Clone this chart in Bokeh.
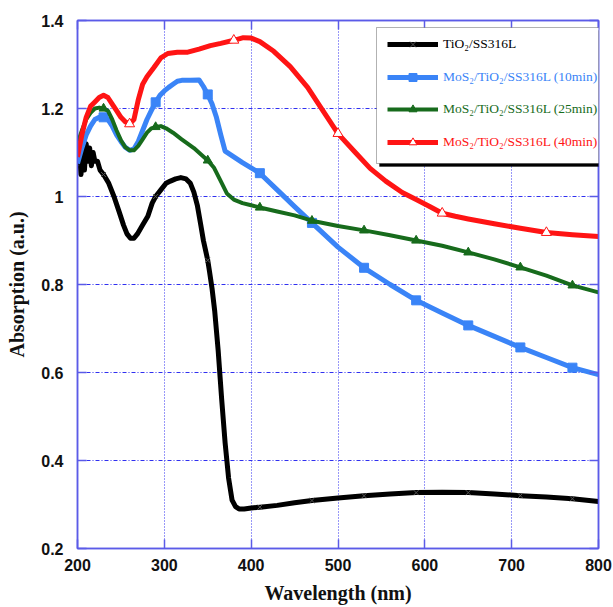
from bokeh.plotting import figure
from bokeh.models import Range1d, LinearAxis, Legend, LegendItem, BoxAnnotation, FixedTicker
from bokeh.embed import file_html
from bokeh.resources import INLINE

# ---------------- data ----------------
x_ticks = [200, 300, 400, 500, 600, 700, 800]
y_ticks = [0.2, 0.4, 0.6, 0.8, 1.0, 1.2, 1.4]
y_tick_labels = ["0.2", "0.4", "0.6", "0.8", "1", "1.2", "1.4"]
x_title = "Wavelength (nm)"
y_title = "Absorption (a.u.)"

labels = ["TiO\u2082/SS316L",
          "MoS\u2082/TiO\u2082/SS316L (10min)",
          "MoS\u2082/TiO\u2082/SS316L (25min)",
          "MoS\u2082/TiO\u2082/SS316L (40min)"]

wl_tio2 = [200, 202, 204, 206, 208, 210, 212, 214, 216, 218, 220, 223, 226, 230, 236, 242, 248,
           253, 257, 261, 265, 269, 275, 281, 286, 290, 296, 302, 307, 313, 319, 325, 330, 334,
           338, 342, 345, 350, 352, 355, 358, 362, 366, 370, 374, 378, 382, 386, 392, 400, 410,
           430, 450, 470, 500, 530, 560, 590, 620, 650, 680, 710, 740, 770, 800]
abs_tio2 = [1.07, 1.11, 1.05, 1.10, 1.06, 1.12, 1.08, 1.11, 1.07, 1.10, 1.08, 1.08, 1.06, 1.05,
            1.03, 1.00, 0.965, 0.935, 0.915, 0.905, 0.905, 0.915, 0.935, 0.955, 0.985, 1.0,
            1.015, 1.03, 1.035, 1.04, 1.043, 1.04, 1.03, 1.01, 0.98, 0.935, 0.9, 0.855, 0.83,
            0.79, 0.74, 0.65, 0.54, 0.44, 0.36, 0.31, 0.295, 0.29, 0.29, 0.292, 0.294, 0.298,
            0.304, 0.309, 0.315, 0.32, 0.324, 0.327, 0.328, 0.327, 0.324, 0.32, 0.317, 0.313,
            0.307]
mk_tio2 = [230, 290, 350, 410, 470, 530, 590, 650, 710, 770]

wl_10 = [200, 205, 210, 215, 220, 225, 230, 235, 240, 245, 250, 255, 260, 265, 270, 275, 280,
         285, 290, 295, 300, 305, 310, 315, 320, 330, 340, 345, 350, 355, 360, 365, 370, 380,
         390, 400, 410, 430, 450, 470, 500, 530, 560, 590, 620, 650, 680, 710, 740, 770, 800]
abs_10 = [1.075, 1.11, 1.14, 1.16, 1.175, 1.18, 1.18, 1.175, 1.16, 1.14, 1.125, 1.112, 1.105,
          1.108, 1.125, 1.15, 1.175, 1.195, 1.214, 1.23, 1.24, 1.248, 1.255, 1.262, 1.264,
          1.264, 1.265, 1.25, 1.232, 1.21, 1.18, 1.14, 1.103, 1.09, 1.077, 1.065, 1.053, 1.015,
          0.977, 0.94, 0.885, 0.838, 0.8, 0.764, 0.735, 0.707, 0.682, 0.657, 0.634, 0.611,
          0.595]
mk_10 = [230, 290, 350, 410, 470, 530, 590, 650, 710, 770]

wl_25 = [200, 205, 210, 215, 220, 225, 230, 235, 240, 245, 250, 255, 260, 265, 270, 275, 280,
         285, 290, 296, 302, 310, 320, 334, 350, 357, 365, 372, 380, 390, 400, 410, 430, 450,
         470, 500, 530, 560, 590, 620, 650, 680, 710, 740, 770, 800]
abs_25 = [1.12, 1.15, 1.175, 1.19, 1.2, 1.202, 1.2, 1.195, 1.175, 1.15, 1.128, 1.112, 1.105,
          1.105, 1.115, 1.13, 1.145, 1.155, 1.158, 1.16, 1.155, 1.145, 1.13, 1.11, 1.082,
          1.066, 1.035, 1.007, 0.993, 0.985, 0.98, 0.975, 0.966, 0.957, 0.945, 0.933, 0.923,
          0.912, 0.9, 0.888, 0.873, 0.857, 0.839, 0.82, 0.798, 0.782]
mk_25 = [230, 290, 350, 410, 470, 530, 590, 650, 710, 770]

wl_40 = [200, 205, 210, 215, 220, 225, 230, 235, 240, 245, 250, 255, 260, 265, 270, 275, 280,
         288, 296, 304, 315, 327, 340, 353, 365, 380, 391, 400, 410, 426, 445, 465, 482, 500,
         520, 537, 555, 574, 590, 605, 620, 635, 650, 680, 710, 740, 770, 800]
abs_40 = [1.09, 1.14, 1.18, 1.205, 1.215, 1.225, 1.23, 1.225, 1.21, 1.195, 1.18, 1.17, 1.165,
          1.175, 1.22, 1.255, 1.272, 1.293, 1.315, 1.325, 1.328, 1.328, 1.335, 1.343, 1.348,
          1.355, 1.361, 1.36, 1.352, 1.33, 1.295, 1.248, 1.197, 1.143, 1.1, 1.064, 1.035,
          1.009, 0.993, 0.978, 0.962, 0.955, 0.949, 0.938, 0.928, 0.918, 0.913, 0.909]
mk_40 = [260, 380, 500, 620, 740]

# ---------------- figure ----------------
AXIS_BLUE = "#5b5be8"
GRID_BLUE = "#3030f0"

p = figure(width=613, height=607, output_backend="svg", toolbar_location=None,
           x_range=Range1d(200, 800), y_range=Range1d(0.2, 1.4),
           min_border_left=77, min_border_right=15, min_border_top=20, min_border_bottom=59,
           background_fill_color="white", border_fill_color="white")
p.outline_line_color = AXIS_BLUE
p.outline_line_width = 1.5

for ax in (p.xaxis[0], p.yaxis[0]):
    ax.axis_line_color = AXIS_BLUE
    ax.axis_line_width = 1.5
    ax.major_tick_line_color = AXIS_BLUE
    ax.major_tick_line_width = 1.5
    ax.major_tick_in = 9
    ax.major_tick_out = 0
    ax.minor_tick_line_color = None
    ax.major_label_text_font = "Liberation Sans"
    ax.major_label_text_font_style = "bold"
    ax.major_label_text_font_size = "16px"
    ax.major_label_text_color = "#111111"
    ax.axis_label_text_font = "Liberation Serif"
    ax.axis_label_text_font_style = "bold"
    ax.axis_label_text_font_size = "20px"
    ax.axis_label_text_color = "#111111"

p.xaxis.ticker = FixedTicker(ticks=x_ticks)
p.yaxis.ticker = FixedTicker(ticks=y_ticks)
p.yaxis.major_label_overrides = dict(zip(y_ticks, y_tick_labels))
p.xaxis.axis_label = x_title
p.yaxis.axis_label = y_title
p.xaxis.major_label_standoff = 10
p.xaxis.axis_label_standoff = 8
p.yaxis.major_label_standoff = 14
p.yaxis.axis_label_standoff = 10

for loc, tk in (("right", y_ticks), ("above", x_ticks)):
    a = LinearAxis(ticker=FixedTicker(ticks=tk), major_label_text_font_size="1px",
                   major_label_text_color=None,
                   major_label_standoff=0, axis_line_color=AXIS_BLUE, axis_line_width=1.5,
                   major_tick_line_color=AXIS_BLUE, major_tick_line_width=1.5,
                   major_tick_in=9, major_tick_out=0, minor_tick_line_color=None)
    p.add_layout(a, loc)

p.xgrid.ticker = FixedTicker(ticks=x_ticks)
p.ygrid.ticker = FixedTicker(ticks=y_ticks)
p.xgrid.grid_line_color = GRID_BLUE
p.xgrid.grid_line_dash = "1 2"
p.xgrid.grid_line_width = 1
p.ygrid.grid_line_color = GRID_BLUE
p.ygrid.grid_line_dash = "4 2 1 2"
p.ygrid.grid_line_width = 1

series = [
    (wl_tio2, abs_tio2, mk_tio2, "#000000", 5, dict(marker="x", size=7, line_color="#555555", line_width=1)),
    (wl_10, abs_10, mk_10, "#3a84f7", 5, dict(marker="square", size=9, fill_color="#3a84f7", line_color="#3a84f7")),
    (wl_25, abs_25, mk_25, "#176b1c", 4, dict(marker="triangle", size=9, fill_color="#176b1c", line_color="#176b1c")),
    (wl_40, abs_40, mk_40, "#ff1414", 5, dict(marker="triangle", size=10, fill_color="white", line_color="#ff1414", line_width=1)),
]

items = []
for wl, ab, mk, col, lw, mstyle in series:
    lr = p.line(wl, ab, line_color=col, line_width=lw, line_join="round")
    mx = [w for w in wl if w in mk]
    my = [a for w, a in zip(wl, ab) if w in mk]
    sr = p.scatter(mx, my, **mstyle)
    items.append((lr, sr, col))

# legend box with shadow (canvas units)
shadow = BoxAnnotation(left=379, right=622, top=30, bottom=166,
                       left_units="canvas", right_units="canvas", top_units="canvas", bottom_units="canvas",
                       fill_color="black", fill_alpha=1, line_color="black")
box = BoxAnnotation(left=376, right=619, top=27, bottom=163,
                    left_units="canvas", right_units="canvas", top_units="canvas", bottom_units="canvas",
                    fill_color="white", fill_alpha=1, line_color="black", line_width=1)
p.add_layout(shadow)
p.add_layout(box)

row_vy = [494, 461, 429, 396]
for (lr, sr, col), lab, vy in zip(items, labels, row_vy):
    lg = Legend(items=[LegendItem(label=lab, renderers=[lr, sr])], location=(310, vy),
                padding=0, margin=0, spacing=0, glyph_width=51, glyph_height=20,
                label_height=20, label_standoff=5, border_line_color=None,
                background_fill_alpha=0, label_text_font="Liberation Serif",
                label_text_font_size="13.5px", label_text_color=col)
    p.add_layout(lg)

open("out.html", "w").write(file_html(p, INLINE))
